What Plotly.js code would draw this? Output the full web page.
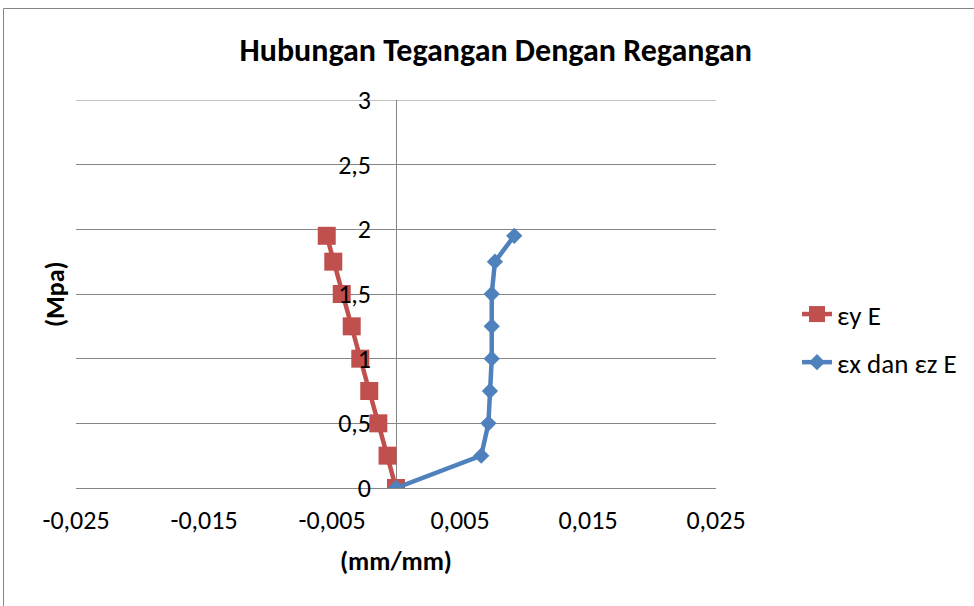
<!DOCTYPE html>
<html>
<head>
<meta charset="utf-8">
<script src="https://cdn.plot.ly/plotly-3.0.1.min.js"></script>
<style>html,body{margin:0;padding:0;background:#fff;}#chart{width:974px;height:606px;}</style>
</head>
<body>
<div id="chart"></div>
<script>
// Stress (MPa) levels
var stress = [0, 0.25, 0.5, 0.75, 1, 1.25, 1.5, 1.75, 1.95];
// Strain εy E (mm/mm)
var strainY = [0, -0.00066, -0.00138, -0.00209, -0.00279, -0.00346, -0.00424, -0.0049, -0.00541];
// Strain εx dan εz E (mm/mm)
var strainXZ = [0, 0.00666, 0.00722, 0.00734, 0.00748, 0.00748, 0.00748, 0.00773, 0.00924];
var seriesNames = ["εy E", "εx dan εz E"];
// x tick values and labels
var xTickVals = [-0.025, -0.015, -0.005, 0.005, 0.015, 0.025];
var xTickText = ["-0,025", "-0,015", "-0,005", "0,005", "0,015", "0,025"];
var yMax = 3;
var titleText = "Hubungan Tegangan Dengan Regangan";
var xTitle = "(mm/mm)";
var yTitle = "(Mpa)";

var FONT = "Carlito, Calibri, Lato, 'Open Sans', sans-serif";

var traces = [
  {
    x: strainY, y: stress, name: seriesNames[0], type: "scatter", mode: "lines+markers",
    legendgroup: "a",
    line: {color: "#C0504D", width: 4.5},
    marker: {symbol: "square", size: 18, color: "#C0504D"}
  },
  {
    x: strainXZ, y: stress, name: seriesNames[1], type: "scatter", mode: "lines+markers",
    legendgroup: "b",
    line: {color: "#4F81BD", width: 4.5},
    marker: {symbol: "diamond", size: 12.5, color: "#4F81BD"}
  }
];

var layout = {
  width: 974, height: 606,
  margin: {l: 76, r: 258, t: 100, b: 118, pad: 0},
  paper_bgcolor: "#fff", plot_bgcolor: "#fff",
  separators: ",.",
  font: {family: FONT, size: 26, color: "#000"},
  title: {
    text: "<b>" + titleText + "</b>",
    font: {family: FONT, size: 32, color: "#000"},
    xref: "container", x: 0.509, xanchor: "center",
    yref: "container", y: 1 - 50/606, yanchor: "middle"
  },
  xaxis: {
    range: [-0.025, 0.025], tickmode: "array", tickvals: xTickVals, ticktext: xTickText,
    showgrid: false, zeroline: true, zerolinecolor: "#868686", zerolinewidth: 1,
    showline: true, linecolor: "#868686", linewidth: 1,
    ticks: "", ticklabelstandoff: 9,
    tickfont: {family: FONT, size: 26, color: "#000"},
    title: {text: "<b>" + xTitle + "</b>", font: {family: FONT, size: 26, color: "#000"}, standoff: 16},
    fixedrange: true
  },
  yaxis: {
    range: [0, yMax], dtick: 0.5,
    showgrid: true, gridcolor: "#868686", gridwidth: 1,
    zeroline: false, showline: false,
    anchor: "free", position: 0.5,
    layer: "above traces",
    ticks: "", ticklabelstandoff: 25,
    tickfont: {family: FONT, size: 26, color: "#000"},
    fixedrange: true
  },
  showlegend: true,
  legend: {
    x: (797 - 76) / 640, xanchor: "left",
    y: 1 - (290 - 100) / 388, yanchor: "top",
    traceorder: "grouped", tracegroupgap: 10,
    font: {family: FONT, size: 27, color: "#000"},
    bgcolor: "rgba(0,0,0,0)", borderwidth: 0
  },
  annotations: [
    {
      text: "<b>" + yTitle + "</b>", textangle: -90,
      xref: "paper", yref: "paper",
      x: (55 - 76) / 640, y: 0.5, xanchor: "center", yanchor: "middle",
      showarrow: false, font: {family: FONT, size: 26, color: "#000"}
    }
  ],
  shapes: [
    {
      type: "rect", xref: "paper", yref: "paper",
      x0: (3.5 - 76) / 640, x1: (1000 - 76) / 640,
      y0: 1 + (100 - 640) / 388, y1: 1 + (100 - 8.5) / 388,
      line: {color: "#868686", width: 1}, fillcolor: "rgba(0,0,0,0)", layer: "below"
    },
    {
      // top gridline at the axis maximum (Plotly omits gridlines on the plot edge)
      type: "line", xref: "paper", yref: "y",
      x0: 0, x1: 1, y0: yMax, y1: yMax,
      line: {color: "#868686", width: 1}, layer: "below"
    }
  ]
};

Plotly.newPlot("chart", traces, layout, {displayModeBar: false, staticPlot: true});
</script>
</body>
</html>
